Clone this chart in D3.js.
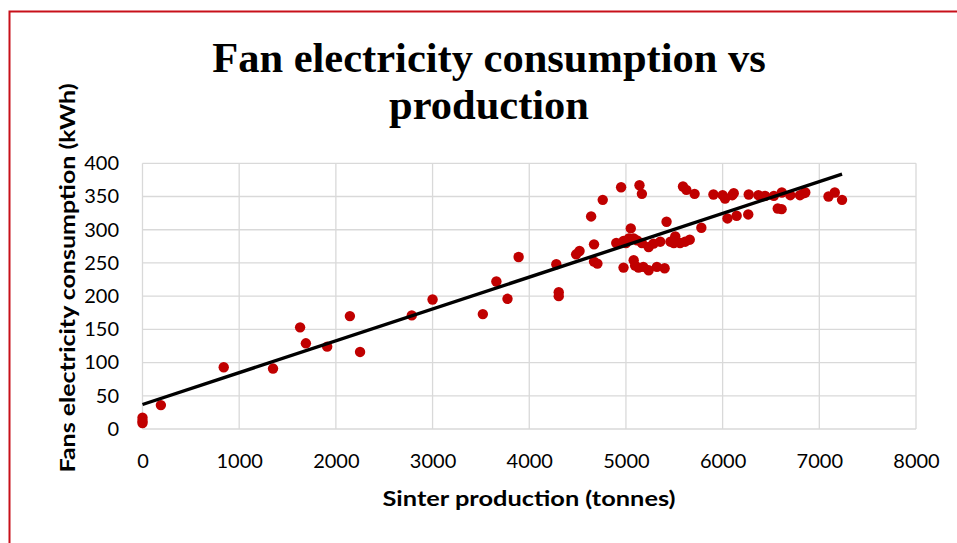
<!DOCTYPE html>
<html>
<head>
<meta charset="utf-8">
<script src="https://cdn.jsdelivr.net/npm/d3@7/dist/d3.min.js"></script>
<style>
  html, body { margin: 0; padding: 0; background: #fff; }
  svg { display: block; }
</style>
</head>
<body>
<svg id="chart" width="957" height="543"></svg>
<script>
// Sinter production (tonnes) per record
const production = [
  0, 0, 0, 190, 840, 1350, 1630, 1690, 1910, 2145, 2250, 2785, 3000,
  3520, 3660, 3775, 3890,
  4280, 4305, 4305, 4485, 4520, 4640, 4670, 4670, 4705, 4760,
  4900, 4950, 4975, 4975, 5000, 5030, 5050, 5080, 5080, 5095, 5115, 5130,
  5140, 5165, 5165, 5180, 5235, 5235, 5285, 5320, 5355, 5400, 5420, 5460, 5495,
  5510, 5560, 5590, 5612, 5625, 5660, 5710, 5780,
  5905, 6000, 6025, 6050, 6100, 6115, 6145, 6265, 6270, 6370, 6440, 6530, 6570,
  6610, 6612, 6700, 6800, 6840, 6855, 7095, 7160, 7235
];
// Fan electricity consumption (kWh) for the same records
const consumption = [
  17, 12, 9, 36, 93, 91, 153, 129, 124, 170, 116, 171, 195,
  173, 222, 196, 259,
  248, 206, 200, 263, 268, 320, 278, 252, 249, 345,
  280, 364, 283, 243, 280, 287, 302, 287, 254, 246, 284, 243,
  367, 354, 280, 244, 274, 239, 279, 244, 282, 242, 312, 282, 280,
  290, 280, 365, 282, 360, 285, 354, 303,
  353, 352, 347, 317, 352, 355, 321, 323, 353, 352, 351, 351, 332,
  331, 356, 352, 352, 355, 356, 350, 356, 345
];
const xTicks = [0, 1000, 2000, 3000, 4000, 5000, 6000, 7000, 8000];
const yTicks = [0, 50, 100, 150, 200, 250, 300, 350, 400];

const titleLines = ["Fan electricity consumption vs", "production"];
const xTitle = "Sinter production (tonnes)";
const yTitle = "Fans electricity consumption (kWh)";

const svg = d3.select("#chart");
const W = 957, H = 543;
const plot = { left: 142.5, right: 916, top: 163.3, bottom: 429 };

const x = d3.scaleLinear().domain([0, 8000]).range([plot.left, plot.right]);
const y = d3.scaleLinear().domain([0, 400]).range([plot.bottom, plot.top]);

// Chart frame (red outline)
svg.append("rect")
  .attr("x", 9.5).attr("y", 11.5)
  .attr("width", W + 20).attr("height", H + 20)
  .attr("fill", "none")
  .attr("stroke", "#c8101a")
  .attr("stroke-width", 2);

// Title
svg.append("text")
  .attr("x", 489).attr("y", 72)
  .attr("text-anchor", "middle")
  .attr("font-family", "'Liberation Serif', 'Times New Roman', serif")
  .attr("font-weight", "bold")
  .attr("font-size", 42.5)
  .attr("fill", "#000")
  .selectAll("tspan")
  .data(titleLines)
  .join("tspan")
  .attr("x", 489)
  .attr("dy", (d, i) => i === 0 ? 0 : 47)
  .text(d => d);

// Gridlines
const grid = svg.append("g").attr("stroke", "#d9d9d9").attr("stroke-width", 1.3);
grid.selectAll("line.v").data(xTicks).join("line")
  .attr("class", "v")
  .attr("x1", d => x(d)).attr("x2", d => x(d))
  .attr("y1", plot.top).attr("y2", plot.bottom);
grid.selectAll("line.h").data(yTicks).join("line")
  .attr("class", "h")
  .attr("x1", plot.left).attr("x2", plot.right)
  .attr("y1", d => y(d)).attr("y2", d => y(d));

// Axes (labels only; lines come from the grid)
const tickFont = "Lato, 'Open Sans', sans-serif";
const xAxis = svg.append("g")
  .attr("transform", `translate(0,${plot.bottom + 32})`)
  .call(d3.axisBottom(x).tickValues(xTicks).tickSize(0).tickPadding(0).tickFormat(d3.format("d")));
xAxis.select(".domain").remove();
xAxis.selectAll("text")
  .attr("font-family", tickFont).attr("font-size", 20).attr("fill", "#000")
  .attr("dy", "0.35em");

const yAxis = svg.append("g")
  .attr("transform", `translate(119,0)`)
  .call(d3.axisLeft(y).tickValues(yTicks).tickSize(0).tickPadding(0).tickFormat(d3.format("d")));
yAxis.select(".domain").remove();
yAxis.selectAll("text")
  .attr("font-family", tickFont).attr("font-size", 20).attr("fill", "#000");

// Axis titles
svg.append("text")
  .attr("x", 529).attr("y", 506)
  .attr("text-anchor", "middle")
  .attr("font-family", tickFont).attr("font-weight", "bold").attr("font-size", 21)
  .attr("textLength", 293).attr("lengthAdjust", "spacingAndGlyphs")
  .text(xTitle);

svg.append("text")
  .attr("transform", "translate(75,278) rotate(-90)")
  .attr("text-anchor", "middle")
  .attr("font-family", tickFont).attr("font-weight", "bold").attr("font-size", 21)
  .attr("textLength", 389).attr("lengthAdjust", "spacingAndGlyphs")
  .text(yTitle);

// Data points
const points = production.map((p, i) => ({ p, c: consumption[i] }));
svg.append("g").selectAll("circle").data(points).join("circle")
  .attr("cx", d => x(d.p))
  .attr("cy", d => y(d.c))
  .attr("r", 5.2)
  .attr("fill", "#c00000");

// Linear least-squares trendline over the data range
const mx = d3.mean(production), my = d3.mean(consumption);
const sxy = d3.sum(points, d => (d.p - mx) * (d.c - my));
const sxx = d3.sum(points, d => (d.p - mx) ** 2);
const slope = sxy / sxx, intercept = my - slope * mx;
const [x0, x1] = d3.extent(production);
svg.append("line")
  .attr("x1", x(x0)).attr("y1", y(intercept + slope * x0))
  .attr("x2", x(x1)).attr("y2", y(intercept + slope * x1))
  .attr("stroke", "#000")
  .attr("stroke-width", 3.4);
</script>
</body>
</html>
